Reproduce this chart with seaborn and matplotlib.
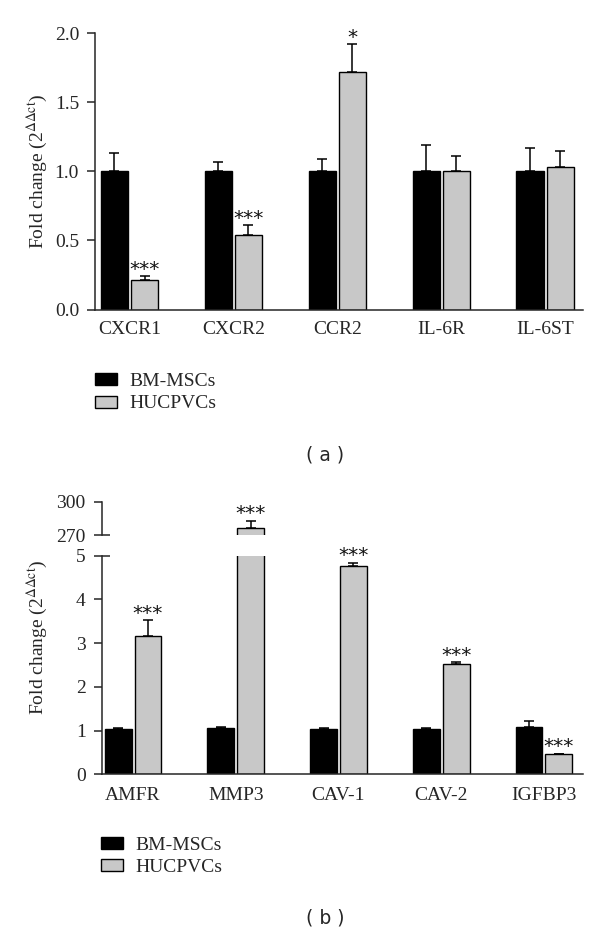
import numpy as np
import pandas as pd
import matplotlib
matplotlib.use('Agg')
import matplotlib.pyplot as plt
import seaborn as sns
from matplotlib.patches import Patch
from matplotlib.ticker import FixedLocator

# ---------------- data ----------------
groups = ['BM-MSCs', 'HUCPVCs']

genes_a = ['CXCR1', 'CXCR2', 'CCR2', 'IL-6R', 'IL-6ST']
bm_a = [1.00, 1.00, 1.00, 1.00, 1.00]
bm_a_err = [0.13, 0.07, 0.09, 0.19, 0.165]
hu_a = [0.21, 0.54, 1.72, 1.00, 1.03]
hu_a_err = [0.03, 0.07, 0.20, 0.11, 0.12]
stars_a = ['***', '***', '*', '', '']

genes_b = ['AMFR', 'MMP3', 'CAV-1', 'CAV-2', 'IGFBP3']
bm_b = [1.04, 1.07, 1.04, 1.04, 1.075]
bm_b_err = [0.02, 0.02, 0.02, 0.02, 0.135]
hu_b = [3.16, 276.0, 4.77, 2.52, 0.46]
hu_b_err = [0.37, 7.0, 0.07, 0.04, 0.01]
stars_b = ['***', '***', '***', '***', '***']

ylabel = r'Fold change (2$^{\Delta\Delta \mathrm{ct}}$)'

# ---------------- style ----------------
sns.set_style('ticks')
plt.rcParams['font.family'] = ['Liberation Serif', 'DejaVu Serif']
plt.rcParams['mathtext.fontset'] = 'stix'
plt.rcParams['axes.linewidth'] = 1.1

FS = 14
pal = {'BM-MSCs': '#000000', 'HUCPVCs': '#c8c8c8'}
W, H = 600, 933
fig = plt.figure(figsize=(6, 9.33), dpi=100)


def frame(x0, x1, ytop, ybot):
    return [x0 / W, 1 - ybot / H, (x1 - x0) / W, (ybot - ytop) / H]


def draw(ax, genes, bm, bm_err, hu, hu_err):
    df = pd.DataFrame({
        'gene': genes + genes,
        'group': [groups[0]] * len(genes) + [groups[1]] * len(genes),
        'value': bm + hu,
    })
    sns.barplot(data=df, x='gene', y='value', hue='group', order=genes,
                hue_order=groups, palette=pal, width=0.58, gap=0.1,
                edgecolor='black', linewidth=1.0, errorbar=None,
                saturation=1, legend=False, ax=ax)
    centers = []
    for cont, vals, errs in zip(ax.containers, [bm, hu], [bm_err, hu_err]):
        xs = [b.get_x() + b.get_width() / 2 for b in cont]
        centers.append(xs)
        ax.errorbar(xs, vals, yerr=[np.zeros(len(vals)), errs], fmt='none',
                    ecolor='black', elinewidth=1.1, capsize=3.7,
                    capthick=1.1, zorder=1)
    return centers


def style(ax, xlim):
    sns.despine(ax=ax)
    ax.set_xlim(*xlim)
    ax.set_xlabel('')
    ax.set_ylabel('')
    ax.tick_params(axis='y', direction='out', length=5.5, width=1.1,
                   labelsize=FS, pad=6)


def stars(ax, x, top, s):
    ax.annotate(s, (x, top), xytext=(0, 1), textcoords='offset points',
                ha='center', va='baseline', fontsize=14.5, family='DejaVu Sans',
                color='#111111')


# ---------------- panel (a) ----------------
ax_a = fig.add_axes(frame(95, 583, 33, 309.5))
cen = draw(ax_a, genes_a, bm_a, bm_a_err, hu_a, hu_a_err)
style(ax_a, (-0.332, 4.365))
ax_a.set_ylim(0, 2.0)
ax_a.set_yticks([0, 0.5, 1.0, 1.5, 2.0])
ax_a.set_yticklabels(['0.0', '0.5', '1.0', '1.5', '2.0'])
ax_a.tick_params(axis='x', length=0, labelsize=FS, pad=8)
for x, v, e, s in zip(cen[1], hu_a, hu_a_err, stars_a):
    if s:
        stars(ax_a, x, v + e, s)
ax_a.set_ylabel(ylabel, fontsize=FS, va='center')
ax_a.yaxis.set_label_coords(-0.118, 0.5)

leg_kw = dict(loc='upper left', frameon=False, borderpad=0, borderaxespad=0,
              handlelength=1.13, handleheight=0.57, handletextpad=0.63,
              labelspacing=0.28, fontsize=FS)
fig.legend([Patch(facecolor=pal[g], edgecolor='black', linewidth=1.0) for g in groups],
           groups, bbox_to_anchor=(95 / W, 1 - 373 / H), **leg_kw)
fig.text(325 / W, 1 - 455 / H, '( a )', ha='center', va='center',
         family='DejaVu Sans', fontsize=13.5)

# ---------------- panel (b) ----------------
xlim_b = (-0.305, 4.38)
ax_b = fig.add_axes(frame(101.7, 583, 555.7, 774.3))
ax_t = fig.add_axes(frame(101.7, 583, 502, 535), sharex=ax_b)
cen_b = draw(ax_b, genes_b, bm_b, bm_b_err, hu_b, hu_b_err)
draw(ax_t, genes_b, bm_b, bm_b_err, hu_b, hu_b_err)
style(ax_b, xlim_b)
style(ax_t, xlim_b)
ax_b.set_ylim(0, 5)
ax_b.set_yticks([0, 1, 2, 3, 4, 5])
ax_b.tick_params(axis='x', length=0, labelsize=FS, pad=9.5)
ax_t.set_ylim(270, 300)
ax_t.set_yticks([270, 300])
ax_t.spines['bottom'].set_visible(False)
ax_t.tick_params(axis='x', bottom=False, labelbottom=False)
for a, pos in [(ax_b, 5), (ax_t, 270)]:
    a.yaxis.remove_overlapping_locs = False
    a.yaxis.set_minor_locator(FixedLocator([pos]))
    a.tick_params(axis='y', which='minor', direction='in', length=6, width=1.1)

for x, v, e, s in zip(cen_b[1], hu_b, hu_b_err, stars_b):
    if s:
        stars(ax_t if v + e > 5 else ax_b, x, v + e, s)
ax_b.set_ylabel(ylabel, fontsize=FS, va='center')
ax_b.yaxis.set_label_coords(-0.133, 0.626)

fig.legend([Patch(facecolor=pal[g], edgecolor='black', linewidth=1.0) for g in groups],
           groups, bbox_to_anchor=(101 / W, 1 - 836.5 / H), **leg_kw)
fig.text(325 / W, 1 - 918 / H, '( b )', ha='center', va='center',
         family='DejaVu Sans', fontsize=13.5)

fig.savefig('out.png', dpi=100)
